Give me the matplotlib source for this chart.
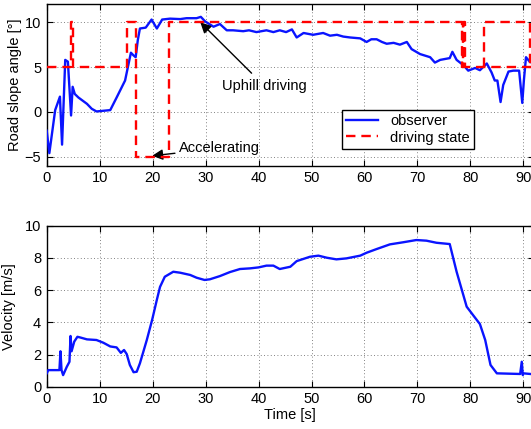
import numpy as np
import matplotlib
matplotlib.use("Agg")
import matplotlib.pyplot as plt

plt.rcParams['font.family'] = ['Liberation Sans', 'DejaVu Sans']
plt.rcParams['font.size'] = 10

# ---- Road slope observer (top) ----
obs_t = [0.0, 0.5, 1.6, 2.5, 2.9, 3.5, 4.0, 4.6, 4.9, 5.3, 6.0, 7.6, 8.5, 9.4, 12.0,
         13.2, 14.8, 15.4, 15.9, 16.4, 16.8, 17.2, 17.6, 18.7, 19.8, 20.8, 21.8, 23.3,
         25.2, 26.4, 27.4, 28.3, 29.1, 29.9, 31.5, 32.7, 34.0, 35.2, 37.1, 38.2, 39.6, 41.5,
         42.8, 44.0, 45.2, 46.3, 47.2, 48.5, 50.3, 52.2, 53.5, 54.8, 56.0, 57.3, 59.2, 60.4,
         61.3, 62.3, 63.3, 64.2, 65.5, 66.7, 68.0, 68.9, 70.5, 72.4, 73.3, 74.3, 76.1, 76.6,
         77.4, 78.7, 79.6, 80.9, 81.8, 83.1, 84.0, 84.6, 85.1, 85.7, 86.2, 87.2, 88.1,
         89.2, 89.8, 90.1, 90.5, 91.2, 92.0]
obs_v = [-2.1, -4.6, 0.2, 1.7, -3.65, 5.8, 5.6, -0.4, 2.8, 2.0, 1.6, 0.9, 0.35, 0.05, 0.2,
         1.6, 3.5, 5.2, 6.6, 6.3, 6.1, 8.0, 9.3, 9.4, 10.3, 9.3, 10.3, 10.4,
         10.35, 10.45, 10.45, 10.45, 10.6, 10.1, 9.5, 9.8, 9.1, 9.1, 9.0, 9.1, 8.9, 9.1,
         8.9, 9.1, 8.9, 9.2, 8.3, 8.8, 8.6, 8.8, 8.5, 8.6, 8.4, 8.3, 8.2, 7.8,
         8.1, 8.1, 7.8, 7.6, 7.7, 7.5, 7.8, 7.0, 6.45, 6.1, 5.5, 5.8, 6.0, 6.7,
         5.8, 5.2, 4.6, 4.9, 4.65, 5.4, 4.4, 3.5, 3.5, 1.1, 3.0, 4.5, 4.6,
         4.6, 1.0, 3.5, 6.1, 5.6, 5.4]

# ---- Driving state (top, dashed) ----
state_t = [0.0, 4.6, 4.6, 4.9, 4.9, 15.1, 15.1, 16.8, 16.8, 23.1, 23.1, 78.4, 78.4,
           78.55, 78.55, 78.7, 78.7, 78.85, 78.85, 79.0, 79.0, 92.0, np.nan,
           82.6, 82.6, 91.3, 91.3]
state_v = [5, 5, 10, 10, 5, 5, 10, 10, -5, -5, 10, 10, 5,
           5, 10, 10, 5, 5, 10, 10, 5, 5, np.nan,
           5, 10, 10, 5]

# ---- Velocity (bottom) ----
vel_t = [0.0, 0.3, 2.4, 2.6, 2.8, 3.1, 3.8, 4.3, 4.5, 4.7, 5.2, 5.8, 6.3, 7.6, 9.4,
         10.7, 12.0, 13.2, 14.0, 14.6, 15.1, 15.7, 16.4, 17.0, 17.6, 18.9, 19.9, 20.8,
         21.4, 22.3, 23.9, 25.2, 27.1, 28.3, 29.8, 30.8, 32.7, 34.6, 36.5, 38.4, 40.0,
         41.5, 42.8, 44.0, 46.0, 47.2, 49.7, 51.3, 52.9, 54.7, 56.6, 59.2, 60.4, 62.3,
         64.8, 67.3, 69.8, 71.7, 73.6, 76.1, 77.4, 79.3, 80.5, 81.8, 82.8, 83.8, 85.0,
         89.4, 89.7, 89.9, 90.0, 92.0]
vel_v = [0.83, 1.03, 1.03, 2.2, 1.03, 0.72, 1.24, 1.55, 3.15, 2.2, 2.8, 3.1, 3.06, 2.94, 2.9,
         2.73, 2.5, 2.44, 2.1, 2.28, 2.03, 1.35, 0.9, 0.93, 1.45, 2.9, 4.14, 5.4,
         6.2, 6.83, 7.14, 7.08, 6.94, 6.77, 6.63, 6.67, 6.87, 7.12, 7.31, 7.35, 7.41,
         7.52, 7.52, 7.31, 7.45, 7.8, 8.07, 8.14, 8.01, 7.91, 7.97, 8.14, 8.32, 8.55,
         8.84, 8.97, 9.11, 9.07, 8.94, 8.86, 7.14, 4.97, 4.45, 3.89, 2.9, 1.35, 0.83,
         0.79, 1.55, 0.72, 0.83, 0.77]

xticks = [0, 10, 20, 30, 40, 50, 60, 70, 80, 90]
yticks_top = [-5, 0, 5, 10]
yticks_bot = [0, 2, 4, 6, 8, 10]

W, H = 531, 429
fig = plt.figure(figsize=(W / 100, H / 100), dpi=100)
left = 46.7 / W
width = 92 * 5.296 / W
ax1 = fig.add_axes([left, 1 - 165.7 / H, width, (165.7 - 4.3) / H])
ax2 = fig.add_axes([left, 1 - 386.7 / H, width, (386.7 - 225.7) / H])

for ax in (ax1, ax2):
    ax.set_xlim(0, 92)
    ax.set_xticks(xticks)
    ax.grid(True, linestyle=(0, (1, 3)), color='0.35', linewidth=0.6)
    ax.tick_params(direction='in', top=True, right=True, length=4, width=0.8,
                   labelsize=10.5, pad=4)
    for s in ax.spines.values():
        s.set_linewidth(1.0)

ax1.plot(obs_t, obs_v, color='#0a14ff', lw=1.7, label='observer', zorder=3)
ax1.plot(state_t, state_v, color='#ff0000', lw=1.7, linestyle=(0, (4, 2.5)),
         label='driving state', zorder=4)
ax1.set_ylim(-6, 12)
ax1.set_yticks(yticks_top)
ax1.set_ylabel('Road slope angle [°]', fontsize=10.5, labelpad=2)

ax1.annotate('Uphill driving', xy=(29.0, 10.0), xytext=(33.1, 2.9),
             fontsize=10.5, va='center', ha='left',
             arrowprops=dict(arrowstyle='-|>', color='k', lw=1.0,
                             mutation_scale=16, shrinkA=3, shrinkB=0))
ax1.annotate('Accelerating', xy=(19.9, -4.9), xytext=(25.0, -4.05),
             fontsize=10.5, va='center', ha='left',
             arrowprops=dict(arrowstyle='-|>', color='k', lw=1.0,
                             mutation_scale=16, shrinkA=1, shrinkB=0))

leg = ax1.legend(loc='upper left', bbox_to_anchor=(342 / W, 1 - 110 / H),
                 bbox_transform=fig.transFigure, borderaxespad=0, fontsize=10.5,
                 fancybox=False, framealpha=1, edgecolor='black', handlelength=2.2,
                 handletextpad=0.8, labelspacing=0.15, borderpad=0.3)
leg.get_frame().set_linewidth(1.0)

ax2.plot(vel_t, vel_v, color='#0a14ff', lw=1.7, zorder=3)
ax2.set_ylim(0, 10)
ax2.set_yticks(yticks_bot)
ax2.set_ylabel('Velocity [m/s]', fontsize=10.5, labelpad=6)
ax2.set_xlabel('Time [s]', fontsize=10.5, labelpad=1)

fig.savefig('out.png', dpi=100)
